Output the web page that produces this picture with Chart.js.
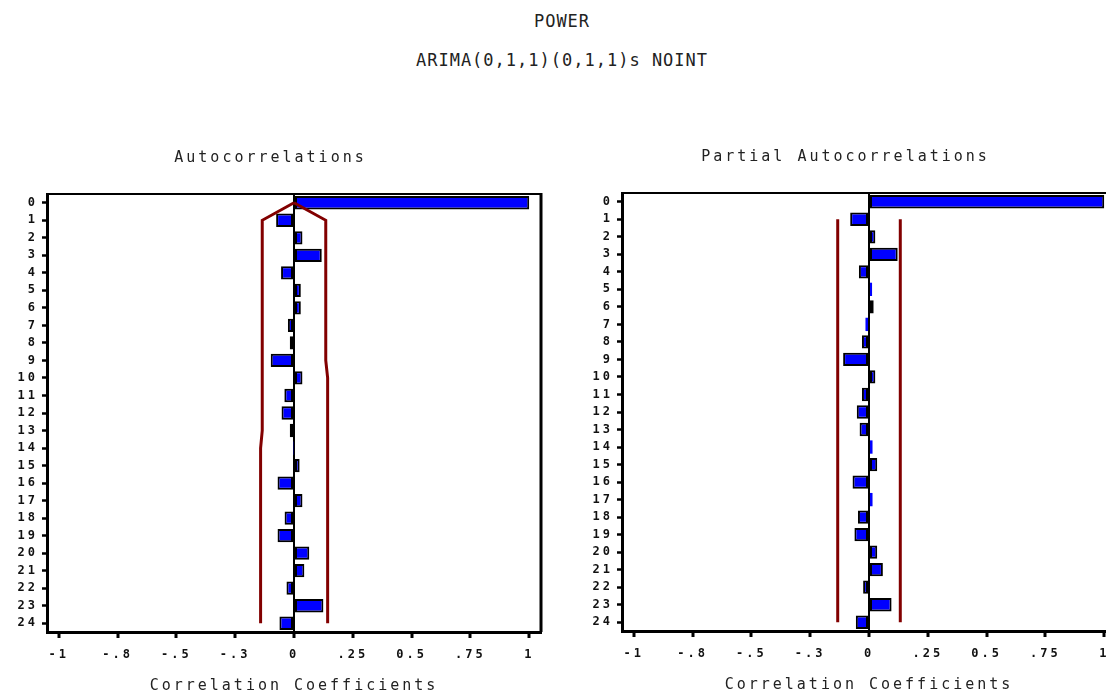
<!DOCTYPE html>
<html>
<head>
<meta charset="utf-8">
<script src="https://cdn.jsdelivr.net/npm/chart.js@4.4.0/dist/chart.umd.min.js"></script>
<style>
    body { margin: 0; width: 1106px; height: 692px; overflow: hidden; background: #fff; position: relative; }
    .head { position: absolute; left: 562px; transform: translateX(-50%); white-space: nowrap;
            font-family: 'DejaVu Sans Mono', monospace; font-size: 17px; line-height: 20px; color: #222; letter-spacing: 1px; }
    canvas { position: absolute; }
</style>
</head>
<body>
<div class="head" style="top:11px">POWER</div>
<div class="head" style="top:50px">ARIMA(0,1,1)(0,1,1)s NOINT</div>
<canvas id="acfChart" width="560" height="562" style="left:0px; top:130px"></canvas>
<canvas id="pacfChart" width="560" height="562" style="left:575px; top:129px"></canvas>
<script>
// --- Data ---
const lags = ['0', '1', '2', '3', '4', '5', '6', '7', '8', '9', '10', '11', '12',
              '13', '14', '15', '16', '17', '18', '19', '20', '21', '22', '23', '24'];

const acf = [1.0, -0.076, 0.036, 0.118, -0.055, 0.029, 0.029, -0.026, -0.018, -0.099, 0.036, -0.041, -0.053,
             -0.018, -0.003, 0.024, -0.070, 0.036, -0.040, -0.070, 0.065, 0.044, -0.032, 0.125, -0.062];
const acfUpper = [0, 0.135, 0.135, 0.135, 0.135, 0.135, 0.135, 0.135, 0.135, 0.135, 0.143, 0.143, 0.143,
                  0.143, 0.143, 0.143, 0.143, 0.143, 0.143, 0.143, 0.143, 0.143, 0.143, 0.143, 0.143];
const acfLower = [0, -0.135, -0.135, -0.135, -0.135, -0.135, -0.135, -0.135, -0.135, -0.135, -0.135, -0.135, -0.135,
                  -0.135, -0.142, -0.142, -0.142, -0.142, -0.142, -0.142, -0.142, -0.142, -0.142, -0.142, -0.142];

const pacf = [1.0, -0.080, 0.027, 0.122, -0.043, 0.013, 0.020, -0.015, -0.030, -0.110, 0.027, -0.030, -0.052,
              -0.040, 0.015, 0.035, -0.070, 0.015, -0.047, -0.062, 0.035, 0.059, -0.025, 0.096, -0.056];
const pacfUpper = [null, 0.133, 0.133, 0.133, 0.133, 0.133, 0.133, 0.133, 0.133, 0.133, 0.133, 0.133, 0.133,
                   0.133, 0.133, 0.133, 0.133, 0.133, 0.133, 0.133, 0.133, 0.133, 0.133, 0.133, 0.133];
const pacfLower = [null, -0.133, -0.133, -0.133, -0.133, -0.133, -0.133, -0.133, -0.133, -0.133, -0.133, -0.133, -0.133,
                   -0.133, -0.133, -0.133, -0.133, -0.133, -0.133, -0.133, -0.133, -0.133, -0.133, -0.133, -0.133];

const xTickValues = [-1, -0.75, -0.5, -0.25, 0, 0.25, 0.5, 0.75, 1];
const xTickLabels = ['-1', '-.8', '-.5', '-.3', '0', '.25', '0.5', '.75', '1'];

// --- Helpers ---
const MONO = "'DejaVu Sans Mono', monospace";
const BOUND_RED = '#820000';

// wide letter spacing like the original bitmap font + top/right frame
const framePlugin = {
    id: 'frame',
    beforeDraw(chart) {
        chart.ctx.letterSpacing = '3px';
    },
    afterDatasetsDraw(chart) {
        const { ctx, chartArea: a } = chart;
        ctx.save();
        ctx.strokeStyle = '#000';
        ctx.lineWidth = 2;
        ctx.beginPath();
        ctx.moveTo(a.left, a.top);
        ctx.lineTo(a.right, a.top);
        ctx.stroke();
        ctx.lineWidth = 3;
        ctx.beginPath();
        ctx.moveTo(a.right, a.top - 1);
        ctx.lineTo(a.right, a.bottom);
        ctx.stroke();
        ctx.restore();
    }
};

function boundLine(values) {
    return {
        type: 'line',
        indexAxis: 'y',
        data: values,
        borderColor: BOUND_RED,
        borderWidth: 3,
        pointRadius: 0,
        fill: false,
        tension: 0,
        order: 0
    };
}

function drawCorrChart(canvasId, title, values, upper, lower) {
    const ctx = document.getElementById(canvasId).getContext('2d');
    return new Chart(ctx, {
        type: 'bar',
        data: {
            labels: lags,
            datasets: [
                {
                    data: values,
                    backgroundColor: '#0000ff',
                    borderColor: '#000',
                    // very small bars show up without outline in the original
                    borderWidth: c => Math.abs(c.raw) < 0.016 ? 0 : 2,
                    borderSkipped: false,
                    categoryPercentage: 1,
                    barPercentage: 0.76,
                    order: 1
                },
                boundLine(upper),
                boundLine(lower)
            ]
        },
        options: {
            indexAxis: 'y',
            responsive: false,
            animation: false,
            layout: { padding: { left: 0, right: 19, top: 0, bottom: 0 } },
            plugins: {
                legend: { display: false },
                tooltip: { enabled: false },
                title: {
                    display: true,
                    text: title,
                    color: '#222',
                    font: { family: MONO, size: 15, weight: 'normal', lineHeight: 1.0 },
                    padding: { top: 21, bottom: 28 }
                }
            },
            scales: {
                x: {
                    type: 'linear',
                    min: -1.05,
                    max: 1.05,
                    afterBuildTicks: scale => {
                        scale.ticks = xTickValues.map(v => ({ value: v }));
                    },
                    afterFit: scale => { scale.height = 60; },
                    ticks: {
                        color: '#111',
                        padding: 10,
                        autoSkip: false,
                        maxRotation: 0,
                        font: { family: MONO, size: 12, weight: 'bold' },
                        callback: (value, index) => xTickLabels[index]
                    },
                    grid: {
                        color: c => (c.tick && c.tick.value === 0) ? '#000' : 'rgba(0,0,0,0)',
                        lineWidth: 2,
                        tickColor: '#000',
                        tickLength: 6,
                        tickWidth: 3
                    },
                    border: { display: true, color: '#000', width: 3 },
                    title: {
                        display: true,
                        text: 'Correlation Coefficients',
                        color: '#222',
                        font: { family: MONO, size: 15, weight: 'normal', lineHeight: 0.8 },
                        padding: { top: 0, bottom: 0 }
                    }
                },
                y: {
                    type: 'category',
                    offset: true,
                    afterFit: scale => { scale.width = 47; },
                    ticks: {
                        color: '#111',
                        padding: 4,
                        autoSkip: false,
                        font: { family: MONO, size: 12, weight: 'bold' }
                    },
                    grid: {
                        offset: false,
                        drawOnChartArea: false,
                        tickColor: '#000',
                        tickLength: 5,
                        tickWidth: 2.5
                    },
                    border: { display: true, color: '#000', width: 3 }
                }
            }
        },
        plugins: [framePlugin]
    });
}

// --- Render ---
drawCorrChart('acfChart', 'Autocorrelations', acf, acfUpper, acfLower);
drawCorrChart('pacfChart', 'Partial Autocorrelations', pacf, pacfUpper, pacfLower);
</script>
</body>
</html>
